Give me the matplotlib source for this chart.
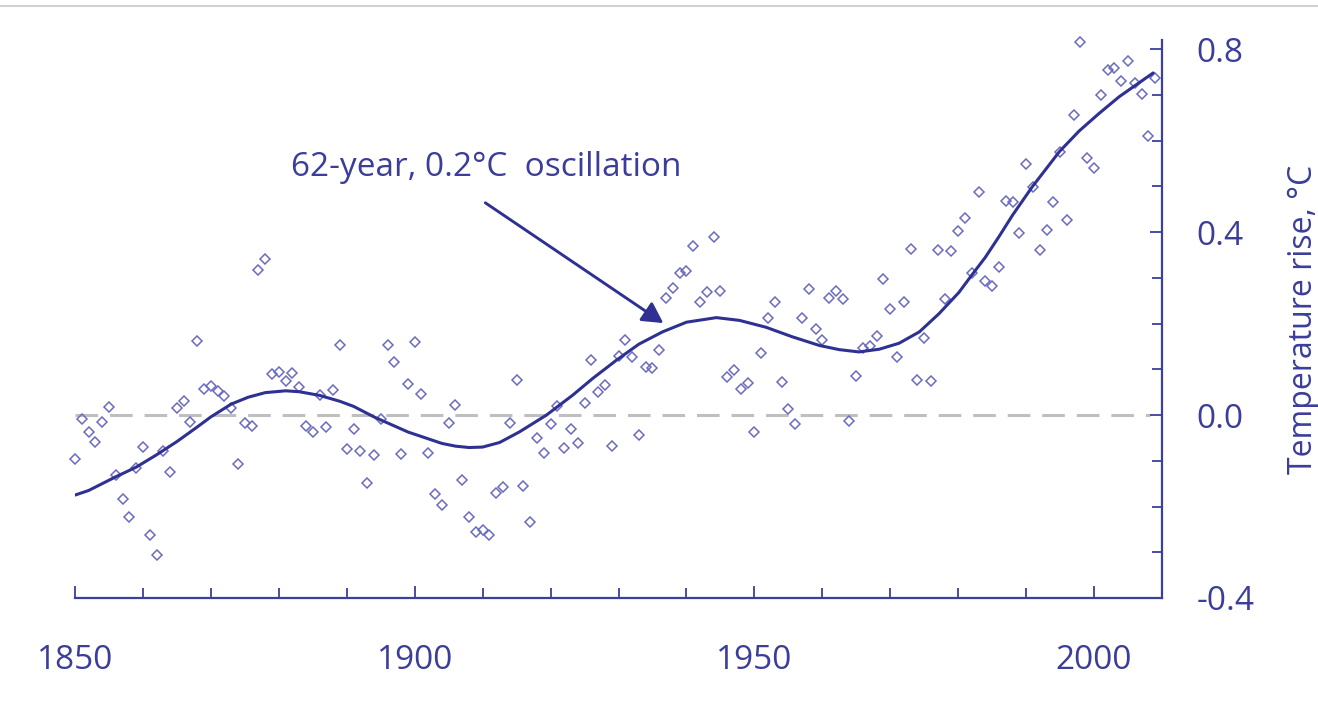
import matplotlib
matplotlib.use("Agg")
import matplotlib.pyplot as plt
from matplotlib.ticker import MultipleLocator, FixedLocator
from matplotlib.patches import FancyArrowPatch
from matplotlib.lines import Line2D

plt.rcParams['font.family'] = ['Open Sans', 'DejaVu Sans']

# ---- data ----
years = list(range(1850, 2010))
anomaly = [
    -0.095, -0.009, -0.038, -0.060, -0.015, 0.017, -0.132, -0.183, -0.222, -0.115,   # 1850s
    -0.069, -0.262, -0.306, -0.078, -0.125, 0.015, 0.031, -0.015, 0.161, 0.058,      # 1860s
    0.064, 0.052, 0.042, 0.016, -0.108, -0.017, -0.024, 0.318, 0.342, 0.090,         # 1870s
    0.095, 0.074, 0.093, 0.062, -0.024, -0.036, 0.043, -0.026, 0.055, 0.153,         # 1880s
    -0.074, -0.030, -0.079, -0.149, -0.087, -0.009, 0.153, 0.117, -0.085, 0.068,     # 1890s
    0.160, 0.046, -0.082, -0.173, -0.196, -0.017, 0.022, -0.141, -0.223, -0.256,     # 1900s
    -0.252, -0.262, -0.171, -0.157, -0.017, 0.077, -0.156, -0.234, -0.051, -0.082,   # 1910s
    -0.019, 0.020, -0.071, -0.030, -0.061, 0.026, 0.120, 0.050, 0.065, -0.067,       # 1920s
    0.130, 0.163, 0.126, -0.044, 0.105, 0.102, 0.143, 0.256, 0.277, 0.311,          # 1930s
    0.315, 0.369, 0.247, 0.268, 0.389, 0.272, 0.084, 0.099, 0.056, 0.071,          # 1940s
    -0.037, 0.135, 0.213, 0.248, 0.072, 0.013, -0.020, 0.212, 0.276, 0.189,         # 1950s
    0.165, 0.257, 0.271, 0.254, -0.012, 0.085, 0.146, 0.152, 0.173, 0.298,          # 1960s
    0.232, 0.126, 0.247, 0.362, 0.077, 0.169, 0.074, 0.360, 0.253, 0.358,           # 1970s
    0.403, 0.431, 0.310, 0.488, 0.292, 0.283, 0.324, 0.468, 0.465, 0.397,           # 1980s
    0.549, 0.499, 0.360, 0.404, 0.466, 0.576, 0.426, 0.656, 0.816, 0.563,           # 1990s
    0.540, 0.699, 0.755, 0.758, 0.730, 0.773, 0.727, 0.702, 0.611, 0.738,           # 2000s
]

curve_years = [1850, 1852, 1856, 1859, 1862, 1865, 1868, 1870, 1873, 1875.5,
               1878, 1881, 1883, 1886, 1889, 1891, 1894, 1899, 1904, 1906,
               1908, 1910, 1912.5, 1915.4, 1919.4, 1923.3, 1926.2, 1929.7, 1933, 1936.5,
               1940, 1944.4, 1947.8, 1951.7, 1955.6, 1959.6, 1962.5, 1965.4, 1968.4, 1971.3,
               1974.3, 1977.2, 1980.1, 1982, 1984, 1986, 1988, 1990.9, 1994.9, 1997.8,
               2000.7, 2003.7, 2006.1, 2008.7]
curve_vals = [-0.175, -0.165, -0.135, -0.114, -0.087, -0.058, -0.026, -0.004, 0.024, 0.039,
              0.049, 0.053, 0.051, 0.043, 0.030, 0.019, -0.004, -0.037, -0.062, -0.068,
              -0.071, -0.070, -0.060, -0.037, 0.000, 0.044, 0.080, 0.120, 0.155, 0.182,
              0.203, 0.213, 0.207, 0.192, 0.171, 0.152, 0.143, 0.138, 0.144, 0.157,
              0.182, 0.222, 0.268, 0.306, 0.345, 0.390, 0.437, 0.499, 0.576, 0.621,
              0.659, 0.696, 0.721, 0.748]

x_major = [1850, 1900, 1950, 2000]
y_major = [-0.4, 0.0, 0.4, 0.8]
y_labels = ["-0.4", "0.0", "0.4", "0.8"]
annotation_text = "62-year, 0.2°C  oscillation"
ylabel_text = "Temperature rise, °C"

# ---- styling ----
NAVY = "#2E3192"
AXCOL = "#3B3F9E"
TXT = "#3A3D9A"
MARK = "#6B6BC2"

W, H = 1318, 704
fig = plt.figure(figsize=(W / 100, H / 100), dpi=100)
ax = fig.add_axes([75 / W, 1 - 598 / H, (1162 - 75) / W, (598 - 40) / H])

ax.axhline(0.0, xmin=0, xmax=(1150 - 75) / (1162 - 75), color="#BFBFBF",
           lw=2.2, dashes=(7.4, 3.9), zorder=1)

ax.plot(years, anomaly, linestyle="none", marker="D", markersize=5.4,
        markerfacecolor="none", markeredgecolor=MARK, markeredgewidth=1.1,
        zorder=2, clip_on=False)

ax.plot(curve_years, curve_vals, color=NAVY, lw=2.2, solid_joinstyle="round",
        solid_capstyle="round", zorder=3)

ax.set_xlim(1850, 2010)
ax.set_ylim(-0.4, 0.82)

for s in ("top", "left"):
    ax.spines[s].set_visible(False)
for s in ("bottom", "right"):
    ax.spines[s].set_color(AXCOL)
    ax.spines[s].set_linewidth(1.6)

ax.xaxis.set_major_locator(FixedLocator(x_major))
ax.xaxis.set_minor_locator(MultipleLocator(10))
ax.yaxis.set_major_locator(FixedLocator(y_major))
ax.yaxis.set_minor_locator(MultipleLocator(0.1))
ax.set_yticklabels(y_labels)
ax.yaxis.tick_right()

ax.tick_params(axis="x", which="major", direction="in", length=8.5, width=1.3,
               color=AXCOL, labelcolor=TXT, labelsize=24, pad=33)
ax.tick_params(axis="x", which="minor", direction="in", length=7, width=1.3, color=AXCOL)
ax.tick_params(axis="y", which="major", direction="in", length=8.5, width=1.3,
               color=AXCOL, labelcolor=TXT, labelsize=24, pad=25, left=False, right=True)
ax.tick_params(axis="y", which="minor", direction="in", length=7, width=1.3,
               color=AXCOL, left=False, right=True)

ax.text(1881.8, 0.542, annotation_text, color=TXT, fontsize=24,
        ha="left", va="center", zorder=4)

arrow = FancyArrowPatch((1910.4, 0.464), (1936.6, 0.201),
                        arrowstyle="-|>,head_length=12.5,head_width=6.8",
                        mutation_scale=1, color=NAVY, lw=2.1,
                        shrinkA=0, shrinkB=0, zorder=4)
ax.add_patch(arrow)

fig.text(1304 / W, 1 - 319 / H, ylabel_text, rotation=90, color=TXT,
         fontsize=23, ha="center", va="center")

fig.add_artist(Line2D([0, 1], [1 - 6 / H, 1 - 6 / H], transform=fig.transFigure,
                      color="#C8C8C8", lw=1.2))

fig.savefig("out.png", dpi=100)
